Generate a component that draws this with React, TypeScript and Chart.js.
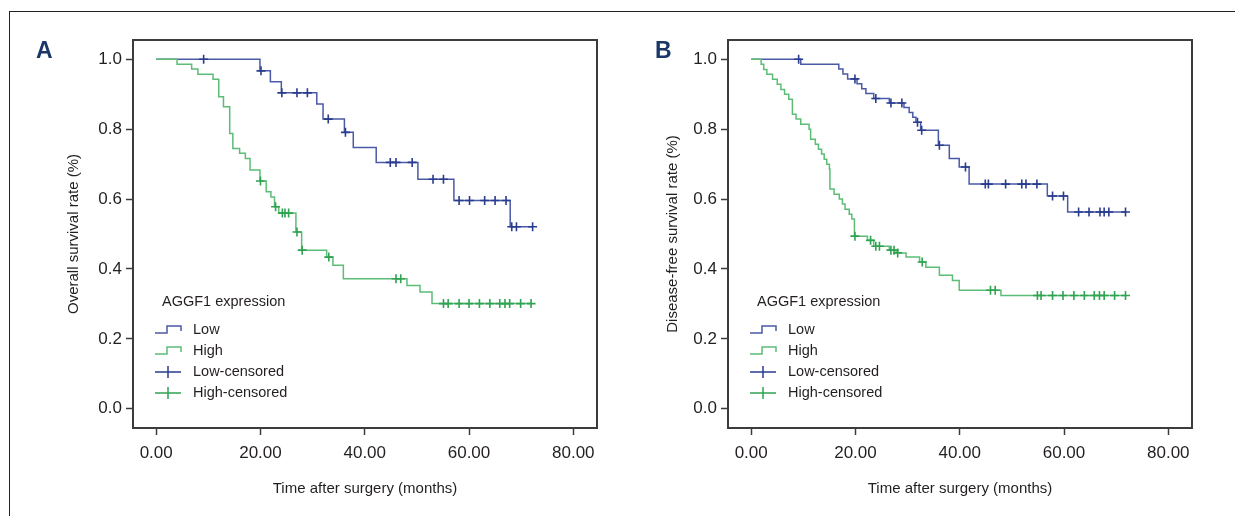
import React, { useEffect, useRef } from "react";
import { Chart, registerables } from "chart.js";
Chart.register(...registerables);

// ---------- data ----------
const xTicks = [0, 20, 40, 60, 80];
const yTicks = [0, 0.2, 0.4, 0.6, 0.8, 1.0];
const legendTitle = "AGGF1 expression";
const legendLabels = ["Low", "High", "Low-censored", "High-censored"];
const xTitle = "Time after surgery (months)";

// Panel A: overall survival
const osLowTimes = [0, 19.9, 21.9, 24.0, 30.8, 32.0, 36.1, 37.8, 42.2, 50.2, 57.1, 67.9, 72.2];
const osLowSurv = [1.0, 0.967, 0.936, 0.904, 0.872, 0.829, 0.791, 0.748, 0.705, 0.657, 0.596, 0.521, 0.521];
const osLowCensored = [9.1, 20.1, 24.1, 27.0, 29.0, 33.0, 36.3, 44.9, 46.0, 49.1, 53.1, 55.1, 58.1, 60.1, 63.0, 65.0, 67.1, 68.2, 69.1, 72.2];

const osHighTimes = [0, 4.0, 6.8, 8.0, 10.9, 12.0, 12.9, 14.1, 14.7, 16.0, 17.1, 18.0, 19.9, 21.1, 22.0, 22.7, 23.5, 26.8, 27.9, 32.7, 33.9, 35.9, 48.1, 50.6, 52.9, 72.0];
const osHighSurv = [1.0, 0.986, 0.972, 0.957, 0.943, 0.893, 0.864, 0.788, 0.745, 0.731, 0.716, 0.683, 0.652, 0.621, 0.606, 0.578, 0.560, 0.506, 0.454, 0.434, 0.411, 0.372, 0.353, 0.334, 0.301, 0.301];
const osHighCensored = [20.0, 22.9, 24.2, 24.7, 25.4, 27.0, 28.0, 33.1, 46.0, 46.9, 55.1, 56.0, 58.1, 60.0, 62.0, 64.0, 65.9, 66.9, 67.8, 69.9, 71.9];

// Panel B: disease-free survival
const dfsLowTimes = [0, 9.5, 16.8, 17.6, 18.5, 20.3, 21.2, 22.0, 23.5, 26.5, 29.3, 30.3, 31.0, 31.6, 32.5, 35.9, 38.0, 39.9, 41.8, 56.8, 60.7, 71.8];
const dfsLowSurv = [1.0, 0.986, 0.972, 0.958, 0.944, 0.930, 0.916, 0.902, 0.888, 0.875, 0.862, 0.848, 0.834, 0.820, 0.797, 0.754, 0.716, 0.692, 0.643, 0.609, 0.563, 0.563];
const dfsLowCensored = [9.1, 19.9, 23.9, 26.8, 28.9, 31.9, 32.7, 36.1, 41.1, 44.9, 45.5, 48.8, 51.9, 52.7, 54.8, 57.8, 59.9, 62.8, 64.8, 66.9, 67.7, 68.6, 71.8];

const dfsHighTimes = [0, 1.9, 2.4, 3.0, 4.1, 5.0, 5.7, 6.4, 7.2, 7.9, 8.6, 9.5, 11.1, 11.4, 12.3, 12.9, 13.5, 14.0, 14.5, 15.0, 15.1, 15.9, 16.9, 17.5, 18.0, 18.8, 19.3, 19.8, 22.3, 23.5, 26.5, 27.8, 29.7, 32.3, 33.5, 36.1, 38.6, 39.9, 47.9, 71.8];
const dfsHighSurv = [1.0, 0.986, 0.971, 0.957, 0.943, 0.929, 0.914, 0.900, 0.886, 0.843, 0.829, 0.814, 0.800, 0.771, 0.757, 0.743, 0.729, 0.714, 0.700, 0.686, 0.629, 0.614, 0.600, 0.586, 0.571, 0.557, 0.543, 0.494, 0.482, 0.465, 0.454, 0.446, 0.434, 0.420, 0.405, 0.382, 0.367, 0.339, 0.324, 0.324];
const dfsHighCensored = [19.9, 22.9, 23.9, 24.6, 26.8, 27.4, 28.1, 32.8, 45.9, 46.8, 54.9, 55.6, 57.8, 59.8, 61.9, 63.9, 65.8, 66.8, 67.7, 69.7, 71.8];

// ---------- styles ----------
const FONT = "'Liberation Sans Narrow', 'Liberation Sans', Arial, sans-serif";
const TICK_SIZE = 17;
const TITLE_SIZE = 15;
const LEGEND_SIZE = 14.5;
const TEXT = "#231f20";
const AXIS = "#3c3c3c";
const BLUE = "#4a5aa6";
const BLUE_C = "#2a3c8e";
const GREEN = "#5dbd77";
const GREEN_C = "#30a352";
const H = 516;

function survAt(times: number[], surv: number[], t: number) {
  let s = surv[0];
  for (let i = 0; i < times.length; i++) if (times[i] <= t) s = surv[i];
  return s;
}

function makePlugins(frameColor: string) {
  const frame = {
    id: "frame",
    afterDatasetsDraw(chart: any) {
      const { ctx, chartArea: a } = chart;
      ctx.save();
      ctx.strokeStyle = frameColor;
      ctx.lineWidth = 2;
      ctx.strokeRect(a.left, a.top, a.right - a.left, a.bottom - a.top);
      ctx.restore();
    },
  };
  const legend = {
    id: "kmLegend",
    afterDraw(chart: any) {
      const { ctx, chartArea: a } = chart;
      const L = a.left;
      const top = 301.5;
      const gap = 21;
      ctx.save();
      ctx.font = `${LEGEND_SIZE}px ${FONT}`;
      ctx.fillStyle = TEXT;
      ctx.textBaseline = "middle";
      ctx.textAlign = "left";
      ctx.fillText(legendTitle, L + 29, top);
      const colors = [BLUE, GREEN, BLUE_C, GREEN_C];
      legendLabels.forEach((lab, i) => {
        const y = top + 28.5 + gap * i;
        ctx.strokeStyle = colors[i];
        ctx.lineWidth = 1.5;
        ctx.beginPath();
        if (i < 2) {
          ctx.moveTo(L + 22, y + 3);
          ctx.lineTo(L + 34, y + 3);
          ctx.lineTo(L + 34, y - 4);
          ctx.lineTo(L + 48, y - 4);
          ctx.lineTo(L + 48, y + 1);
        } else {
          ctx.moveTo(L + 22, y);
          ctx.lineTo(L + 48, y);
          ctx.moveTo(L + 35, y - 6);
          ctx.lineTo(L + 35, y + 6);
        }
        ctx.stroke();
        ctx.fillStyle = TEXT;
        ctx.fillText(lab, L + 60, y);
      });
      ctx.restore();
    },
  };
  return [frame, legend];
}

type PanelProps = {
  left: number;
  width: number;
  plotLeft: number;
  plotRight: number;
  yTitle: string;
  yTitleCenter: number;
  low: { t: number[]; s: number[]; c: number[] };
  high: { t: number[]; s: number[]; c: number[] };
};

function KMPanel(p: PanelProps) {
  const ref = useRef<HTMLCanvasElement>(null);
  useEffect(() => {
    const line = (t: number[], s: number[], color: string) => ({
      type: "line",
      data: t.map((x, i) => ({ x, y: s[i] })),
      borderColor: color,
      borderWidth: 1.5,
      stepped: "before",
      pointRadius: 0,
      fill: false,
    });
    const cens = (c: number[], t: number[], s: number[], color: string) => ({
      type: "line",
      data: c.map((x) => ({ x, y: survAt(t, s, x) })),
      showLine: false,
      pointStyle: "cross",
      pointRadius: 4.5,
      pointBorderWidth: 1.6,
      pointBorderColor: color,
      pointBackgroundColor: color,
      borderColor: color,
    });
    const tickFont = { family: FONT, size: TICK_SIZE };
    const titleFont = { family: FONT, size: TITLE_SIZE };
    const titleHalf = (TITLE_SIZE * 1.2) / 2;
    const chart = new Chart(ref.current as HTMLCanvasElement, {
      type: "line",
      data: {
        datasets: [
          cens(p.low.c, p.low.t, p.low.s, BLUE_C),
          cens(p.high.c, p.high.t, p.high.s, GREEN_C),
          line(p.high.t, p.high.s, GREEN),
          line(p.low.t, p.low.s, BLUE),
        ] as any,
      },
      options: {
        animation: false,
        responsive: false,
        events: [],
        layout: { padding: { left: 0, top: 40, right: p.width - p.plotRight, bottom: 0 } },
        plugins: { legend: { display: false }, tooltip: { enabled: false } },
        scales: {
          x: {
            type: "linear",
            min: -4.45,
            max: 84.55,
            afterBuildTicks: (axis: any) => {
              axis.ticks = xTicks.map((v) => ({ value: v }));
            },
            afterFit: (axis: any) => {
              axis.height = H - 428;
            },
            ticks: {
              font: tickFont,
              color: TEXT,
              padding: 8,
              maxRotation: 0,
              autoSkip: false,
              callback: (v: any) => Number(v).toFixed(2),
            },
            grid: { display: true, drawOnChartArea: false, drawTicks: true, tickLength: 7, tickColor: AXIS, tickWidth: 1.5, color: AXIS },
            border: { display: false },
            title: { display: true, text: xTitle, font: titleFont, color: TEXT, padding: { top: 0, bottom: 27 - titleHalf } },
          },
          y: {
            type: "linear",
            min: -0.055,
            max: 1.0553,
            afterBuildTicks: (axis: any) => {
              axis.ticks = yTicks.map((v) => ({ value: v }));
            },
            afterFit: (axis: any) => {
              axis.width = p.plotLeft;
            },
            ticks: {
              font: tickFont,
              color: TEXT,
              padding: 4,
              autoSkip: false,
              callback: (v: any) => Number(v).toFixed(1),
            },
            grid: { display: true, drawOnChartArea: false, drawTicks: true, tickLength: 7, tickColor: AXIS, tickWidth: 1.5, color: AXIS },
            border: { display: false },
            title: { display: true, text: p.yTitle, font: titleFont, color: TEXT, padding: { top: p.yTitleCenter - titleHalf, bottom: 0 } },
          },
        },
      } as any,
      plugins: makePlugins(AXIS) as any,
    });
    return () => chart.destroy();
  }, []);
  return (
    <canvas
      ref={ref}
      width={p.width}
      height={H}
      style={{ position: "absolute", left: p.left, top: 0, width: p.width, height: H }}
    />
  );
}

const panelLetter: React.CSSProperties = {
  position: "absolute",
  top: 39,
  fontFamily: "'Liberation Sans', Arial, sans-serif",
  fontWeight: 700,
  fontSize: 23,
  lineHeight: "23px",
  color: "#1b3768",
};

export default function App() {
  return (
    <div style={{ position: "absolute", left: 0, top: 0, width: 1235, height: H, overflow: "hidden", background: "#fff" }}>
      <div
        style={{
          position: "absolute",
          left: 9,
          top: 11,
          width: 1400,
          height: 700,
          borderTop: "1px solid #222",
          borderLeft: "1px solid #222",
        }}
      />
      <KMPanel
        left={0}
        width={610}
        plotLeft={133}
        plotRight={597}
        yTitle="Overall survival rate (%)"
        yTitleCenter={74}
        low={{ t: osLowTimes, s: osLowSurv, c: osLowCensored }}
        high={{ t: osHighTimes, s: osHighSurv, c: osHighCensored }}
      />
      <KMPanel
        left={610}
        width={625}
        plotLeft={118}
        plotRight={582}
        yTitle="Disease-free survival rate (%)"
        yTitleCenter={63}
        low={{ t: dfsLowTimes, s: dfsLowSurv, c: dfsLowCensored }}
        high={{ t: dfsHighTimes, s: dfsHighSurv, c: dfsHighCensored }}
      />
      <div style={{ ...panelLetter, left: 36 }}>A</div>
      <div style={{ ...panelLetter, left: 655 }}>B</div>
    </div>
  );
}
